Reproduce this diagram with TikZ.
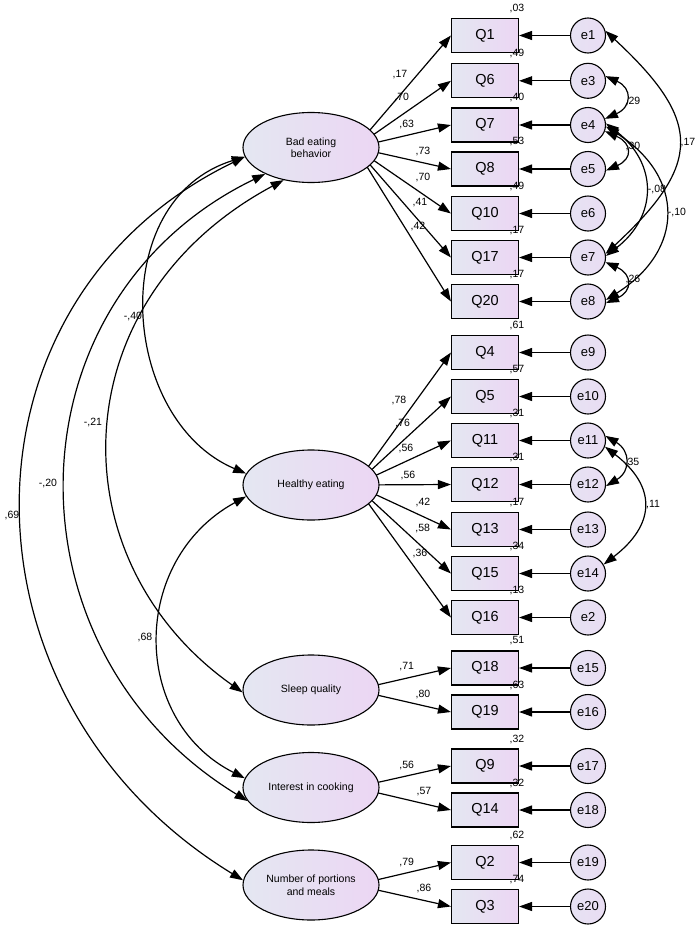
\documentclass[tikz,border=0pt]{standalone}
\usepackage{fontspec}
\setmainfont{Liberation Sans}
\usetikzlibrary{arrows.meta,shapes.geometric,backgrounds}
\definecolor{amosl}{RGB}{228,231,242}
\definecolor{amosr}{RGB}{236,214,243}
\definecolor{amose}{RGB}{233,221,243}
\tikzset{
  latent/.style={ellipse,draw,line width=1.1pt,minimum width=136pt,minimum height=70pt,inner sep=0pt,
    left color=amosl,right color=amosr,align=center,font=\fontsize{10.5}{12.5}\selectfont},
  item/.style={rectangle,draw,line width=1.1pt,minimum width=67pt,minimum height=34pt,inner sep=0pt,
    left color=amosl,right color=amosr,font=\fontsize{14.5}{16}\selectfont},
  resid/.style={circle,draw,line width=1.1pt,minimum size=35pt,inner sep=0pt,
    left color=amosl!50!amose,right color=amose,font=\fontsize{13}{15}\selectfont},
  coef/.style={inner sep=0pt,font=\fontsize{10.5}{12}\selectfont},
  loadarrow/.style={line width=1.2pt,-{Triangle[length=13pt,width=9pt]}},
  covarrow/.style={line width=1.2pt,{Triangle[length=13pt,width=9pt]}-{Triangle[length=13pt,width=9pt]}}
}
\begin{document}
\begin{tikzpicture}[x=1pt,y=-1pt]
\useasboundingbox (0,0) rectangle (700,929);
% latent factors
\node[latent] (bad) at (311,147.5) {Bad eating\\behavior};
\node[latent] (healthy) at (311,485) {Healthy eating};
\node[latent] (sleep) at (311,690) {Sleep quality};
\node[latent] (cooking) at (311,787.5) {Interest in cooking};
\node[latent] (portions) at (311,885) {Number of portions\\and meals};
\coordinate (badsrc) at (355,147.5);
\coordinate (healthysrc) at (355,485);
\coordinate (sleepsrc) at (355,690);
\coordinate (cookingsrc) at (355,787.5);
\coordinate (portionssrc) at (355,885);

% items with residuals and r2
\foreach \q/\y/\r/\e in {Q1/35.5/03/e1, Q6/80.8/49/e3, Q7/125/40/e4, Q8/169/53/e5,
    Q10/213.5/49/e6, Q17/257.5/17/e7, Q20/301.5/17/e8,
    Q4/352.5/61/e9, Q5/396.5/57/e10, Q11/440.5/31/e11, Q12/484.5/31/e12,
    Q13/529.5/17/e13, Q15/573.5/34/e14, Q16/617.5/13/e2,
    Q18/668/51/e15, Q19/712/63/e16, Q9/766/32/e17, Q14/810/32/e18,
    Q2/862.5/62/e19, Q3/906.5/74/e20}{
  \node[item] (\q) at (485,\y) {\q};
  \node[resid] (\e) at (588,\y) {\e};
  \node[coef] (r\q) at (517,\y-27) {,\r};
  \draw[loadarrow] (\e) -- (\q);
}

% loadings
\begin{scope}[on background layer]
  \foreach \q in {Q1,Q6,Q7,Q8,Q10,Q17,Q20} \draw[loadarrow] (badsrc) -- (\q.west);
  \foreach \q in {Q4,Q5,Q11,Q12,Q13,Q15,Q16} \draw[loadarrow] (healthysrc) -- (\q.west);
  \foreach \q in {Q18,Q19} \draw[loadarrow] (sleepsrc) -- (\q.west);
  \foreach \q in {Q9,Q14} \draw[loadarrow] (cookingsrc) -- (\q.west);
  \foreach \q in {Q2,Q3} \draw[loadarrow] (portionssrc) -- (\q.west);
\end{scope}
\foreach \q/\x/\y/\v in {Q1/400/75/17, Q6/401.7/98/70, Q7/406.7/125/63, Q8/423/152/73,
    Q10/423/178/70, Q17/420/203/41, Q20/418/227/42,
    Q4/399/400/78, Q5/402.7/424/76, Q11/406/448/56, Q12/408/475/56,
    Q13/423/502/42, Q15/422.7/528/58, Q16/420/553/36,
    Q18/406.7/667/71, Q19/423/694/80, Q9/406.7/765/56, Q14/424/792/57,
    Q2/406.7/862/79, Q3/424/888/86}
  \node[coef] (l\q) at (\x,\y) {,\v};

% correlations between factors
\draw[covarrow] (bad.188) .. controls (105,200) and (120,420) .. (healthy.170);
\draw[covarrow] (bad.188) .. controls (-52,300) and (-52,700) .. (portions.176);
\draw[covarrow] (bad.210) .. controls (5,300) and (0,650) .. (cooking.192);
\draw[covarrow] (bad.230) .. controls (60,300) and (55,560) .. (sleep.182);
\draw[covarrow] (healthy.190) .. controls (130,560) and (130,720) .. (cooking.172);
\node[coef] (c1) at (133,317) {-,40};
\node[coef] (c2) at (93,422) {-,21};
\node[coef] (c3) at (48,483) {-,20};
\node[coef] (c4) at (12,515) {,69};
\node[coef] (c5) at (145,637) {,68};

% correlated residuals
\draw[covarrow] (e1.15) .. controls +(97,90) and +(97,-90) .. (e7.12);
\draw[covarrow] (e3.15) .. controls +(27,12) and +(27,-12) .. (e4.20);
\draw[covarrow] (e4.-20) .. controls +(27,12) and +(27,-12) .. (e5.-5);
\draw[covarrow] (e4.5) .. controls +(52,40) and +(52,-40) .. (e7.5);
\draw[covarrow] (e4.-5) .. controls +(79,50) and +(79,-50) .. (e8.5);
\draw[covarrow] (e7.-15) .. controls +(27,12) and +(27,-12) .. (e8.-5);
\draw[covarrow] (e11.15) .. controls +(25,15) and +(25,-15) .. (e12.-5);
\draw[covarrow] (e11.-20) .. controls +(52,40) and +(52,-40) .. (e14.30);
\node[coef] (k1) at (633,102) {,29};
\node[coef] (k2) at (633,147) {,30};
\node[coef] (k3) at (688,143) {,17};
\node[coef] (k4) at (657,190) {-,08};
\node[coef] (k5) at (677,213) {-,10};
\node[coef] (k6) at (633,280) {,26};
\node[coef] (k7) at (632,462) {,35};
\node[coef] (k8) at (653,505) {,11};
\end{tikzpicture}
\end{document}
